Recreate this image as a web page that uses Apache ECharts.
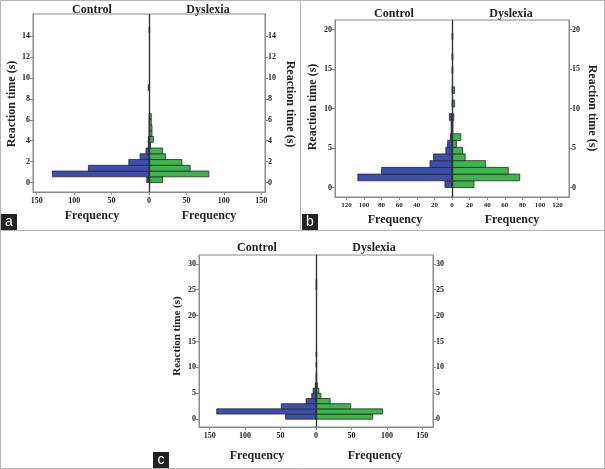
<!DOCTYPE html>
<html><head><meta charset="utf-8">
<script src="https://cdn.jsdelivr.net/npm/echarts@6.0.0/dist/echarts.min.js"></script>
<style>html,body{margin:0;padding:0;background:#fff}#c{width:605px;height:469px}</style>
</head><body><div id="c"></div>
<script>
// ---- data (histogram bin counts, bins start at 0 s) ----
const binWidthA = 0.55;
const controlA  = [3,129,81,27,12,4,1,1,0,0,0,0,0,0,0,0,1];
const dyslexiaA = [18,80,55,44,22,18,2,6,4,4,3,3,0,0,0,0,0,0,0,0,0,0,0,0,0,0,1];
const binWidthB = 0.85;
const controlB  = [8,107,80,25,21,7,5,2,1,1,3];
const dyslexiaB = [25,77,64,38,15,12,5,10,1,1,2,0,3,0,3,0,0,1,0,1,0,0,1];
const binWidthC = 1;
const controlC  = [43,140,49,14,6,4,1];
const dyslexiaC = [80,94,49,20,7,4,2,1,1,0,1,0,1,0,0,0,0,0,0,0,0,0,0,0,0,1,1];
const freqTicksA = [-150,-100,-50,0,50,100,150];
const freqTicksB = [-120,-100,-80,-60,-40,-20,0,20,40,60,80,100,120];
const freqTicksC = [-150,-100,-50,0,50,100,150];
const timeTicksA = [0,2,4,6,8,10,12,14];
const timeTicksB = [0,5,10,15,20];
const timeTicksC = [0,5,10,15,20,25,30];
const groupLabels = ['Control','Dyslexia'];
const axisTitleY = 'Reaction time (s)';
const axisTitleX = 'Frequency';
const panelLetters = ['a','b','c'];

const SERIF = '"Liberation Serif","Times New Roman",serif';
const BLUE = '#3c4fae', GREEN = '#3db54c', EDGE = '#2a2a2a', AX = '#8a8a8a';

function bins(arr, bw, sign){
  const out=[];
  arr.forEach((c,i)=>{ if(c>0) out.push([i*bw,(i+1)*bw,sign*c]); });
  return out;
}
function barSeries(data, color, gi, withLine){
  const s = {
    type:'custom', xAxisIndex:gi, yAxisIndex:gi*2, data:data,
    encode:{x:2,y:[0,1]},
    renderItem:function(params,api){
      const p1=api.coord([api.value(2),api.value(1)]);
      const p2=api.coord([0,api.value(0)]);
      const x=Math.min(p1[0],p2[0]), w=Math.abs(p2[0]-p1[0]);
      return {type:'rect',shape:{x:x,y:p1[1],width:w,height:p2[1]-p1[1]},
        style:{fill:color,stroke:EDGE,lineWidth:0.8}};
    }
  };
  if(withLine){
    s.markLine={silent:true,symbol:'none',animation:false,label:{show:false},
      lineStyle:{color:'#333',width:1.4,type:'solid'},data:[{xAxis:0}]};
  }
  return s;
}
const lbl = {fontFamily:SERIF,fontWeight:'bold',fontSize:8,color:'#222'};
function xAx(gi,lim,ticks,fs){
  return {type:'value',gridIndex:gi,min:-lim,max:lim,
    axisLine:{show:true,onZero:false,lineStyle:{color:AX}},
    axisTick:{show:true,length:3,lineStyle:{color:AX},customValues:ticks},
    axisLabel:Object.assign({},lbl,{fontSize:fs,margin:5,customValues:ticks,formatter:v=>String(Math.abs(v))}),
    splitLine:{show:false}};
}
function yAx(gi,mn,mx,ticks,pos){
  return {type:'value',gridIndex:gi,min:mn,max:mx,position:pos,
    axisLine:{show:true,onZero:false,lineStyle:{color:AX}},
    axisTick:{show:true,length:3,lineStyle:{color:AX},customValues:ticks},
    axisLabel:Object.assign({},lbl,{margin:3,customValues:ticks}),
    splitLine:{show:false}};
}
function txt(x,y,s,fs,rot){
  return {type:'text',x:x,y:y,rotation:rot||0,silent:true,
    style:{text:s,fontFamily:SERIF,fontWeight:'bold',fontSize:fs,fill:'#222',align:'center',verticalAlign:'middle'}};
}
function letter(x,y,s){
  return {type:'group',x:x,y:y,children:[
    {type:'rect',shape:{x:0,y:0,width:16,height:16},style:{fill:'#222'}},
    {type:'text',x:8,y:8.5,style:{text:s,fontFamily:'"Liberation Sans",Arial,sans-serif',fontSize:14,fill:'#fff',align:'center',verticalAlign:'middle'}}
  ]};
}
function line(x1,y1,x2,y2){
  return {type:'line',silent:true,shape:{x1:x1,y1:y1,x2:x2,y2:y2},style:{stroke:'#b5b5b5',lineWidth:1}};
}

const grids=[
  {left:33,top:14,width:232,height:178},
  {left:335,top:20,width:234,height:177},
  {left:199,top:255,width:234,height:172}
];
grids.forEach(g=>{g.show=true;g.borderColor=AX;g.borderWidth=1;g.backgroundColor='transparent';});

const option={
  animation:false,
  grid:grids,
  xAxis:[xAx(0,155,freqTicksA,8),xAx(1,133,freqTicksB,7),xAx(2,165,freqTicksC,8)],
  yAxis:[yAx(0,-0.9,16.1,timeTicksA,'left'),yAx(0,-0.9,16.1,timeTicksA,'right'),
         yAx(1,-1.2,21.2,timeTicksB,'left'),yAx(1,-1.2,21.2,timeTicksB,'right'),
         yAx(2,-1.5,31.7,timeTicksC,'left'),yAx(2,-1.5,31.7,timeTicksC,'right')],
  series:[
    barSeries(bins(controlA,binWidthA,-1),BLUE,0,true),
    barSeries(bins(dyslexiaA,binWidthA,1),GREEN,0,false),
    barSeries(bins(controlB,binWidthB,-1),BLUE,1,true),
    barSeries(bins(dyslexiaB,binWidthB,1),GREEN,1,false),
    barSeries(bins(controlC,binWidthC,-1),BLUE,2,true),
    barSeries(bins(dyslexiaC,binWidthC,1),GREEN,2,false)
  ],
  graphic:[
    line(0.5,0.5,604.5,0.5), line(0.5,0.5,0.5,468.5), line(604.5,0.5,604.5,468.5),
    line(0.5,468.5,604.5,468.5), line(0.5,230.5,604.5,230.5), line(300.5,0.5,300.5,230.5),
    txt(92,10,groupLabels[0],12), txt(208,10,groupLabels[1],12),
    txt(92,216,axisTitleX,12), txt(209,216,axisTitleX,12),
    txt(12,104,axisTitleY,12,Math.PI/2), txt(290,104,axisTitleY,12,-Math.PI/2),
    txt(394,14,groupLabels[0],12), txt(511,14,groupLabels[1],12),
    txt(395,220,axisTitleX,12), txt(512,220,axisTitleX,12),
    txt(313,107,axisTitleY,12,Math.PI/2), txt(592,108,axisTitleY,12,-Math.PI/2),
    txt(257,248,groupLabels[0],12), txt(374,248,groupLabels[1],12),
    txt(257,456,axisTitleX,12), txt(375,456,axisTitleX,12),
    txt(177,336,axisTitleY,11,Math.PI/2),
    letter(1,214,panelLetters[0]), letter(302,214,panelLetters[1]), letter(153,452,panelLetters[2])
  ]
};
echarts.init(document.getElementById('c'),null,{renderer:'canvas'}).setOption(option);
</script></body></html>
